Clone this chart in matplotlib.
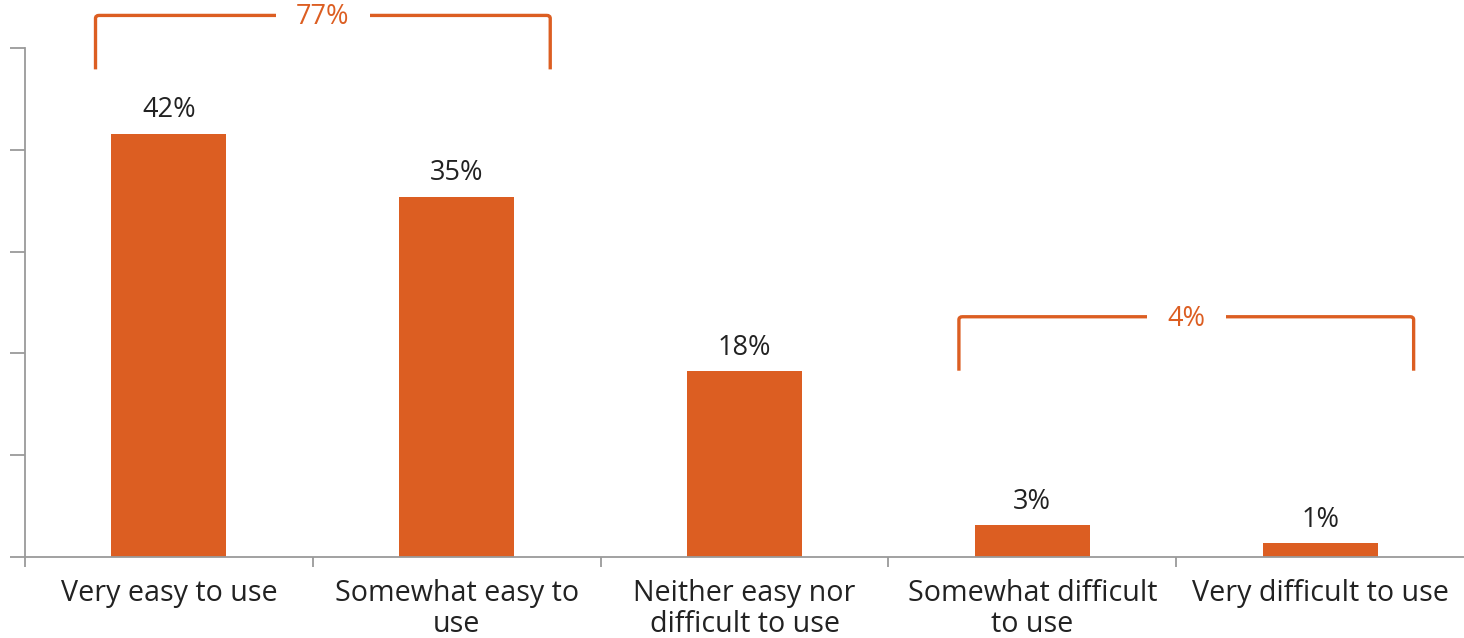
import numpy as np
import matplotlib
matplotlib.use("Agg")
from matplotlib import pyplot as plt
from matplotlib.path import Path
from matplotlib.patches import PathPatch

# data
categories = ["Very easy to use", "Somewhat easy to\nuse", "Neither easy nor\ndifficult to use",
              "Somewhat difficult\nto use", "Very difficult to use"]
values = [41.6, 35.4, 18.3, 3.1, 1.4]
value_labels = ["42%", "35%", "18%", "3%", "1%"]
groups = [(0, 1), (3, 4)]
group_labels = ["77%", "4%"]

ORANGE = "#DC5E22"
GREY = "#9a9a9a"
DARK = "#222222"

plt.rcParams['font.family'] = ['Open Sans', 'DejaVu Sans']

fig = plt.figure(figsize=(14.64, 6.38), dpi=100)
ax = fig.add_axes([25/1464, 81/638, 1 - 25/1464, 509/638])

x = np.arange(len(categories))
ax.bar(x, values, width=0.40, color=ORANGE)
for xi, v, lab in zip(x, values, value_labels):
    ax.text(xi, v + 0.9, lab, ha="center", va="bottom", fontsize=19.5, color=DARK)

ax.set_xlim(-0.5, 4.5)
ax.set_ylim(0, 50)
ax.set_yticks(np.arange(0, 51, 10))
ax.set_yticklabels([])
ax.tick_params(axis="y", length=11, width=1.3, color=GREY)
ax.set_xticks(x)
ax.set_xticklabels(categories, fontsize=20.6, color=DARK, linespacing=1.1)
ax.tick_params(axis="x", which="major", length=0, pad=15.5)
ax.set_xticks(np.arange(-0.5, 4.0, 1), minor=True)
ax.tick_params(axis="x", which="minor", length=7, width=1.3, color=GREY)
for s in ["top", "right"]:
    ax.spines[s].set_visible(False)
for s in ["left", "bottom"]:
    ax.spines[s].set_color(GREY)
    ax.spines[s].set_linewidth(1.3)

# brackets over grouped bars
tops = [53.2, 23.6]
drop = 5.3
for (i0, i1), lab, top in zip(groups, group_labels, tops):
    x0, x1 = i0 - 0.255, i1 + 0.325
    rx, ry = 0.012, 0.3
    verts = [(x0, top - drop), (x0, top - ry), (x0, top), (x0 + rx, top),
             (x1 - rx, top), (x1, top), (x1, top - ry), (x1, top - drop)]
    codes = [Path.MOVETO, Path.LINETO, Path.CURVE3, Path.CURVE3,
             Path.LINETO, Path.CURVE3, Path.CURVE3, Path.LINETO]
    ax.add_patch(PathPatch(Path(verts, codes), fill=False, edgecolor=ORANGE,
                           lw=2.4, clip_on=False, capstyle="butt"))
    ax.text((x0 + x1) / 2, top - 0.2, lab, ha="center", va="center", fontsize=19.5, color=ORANGE,
            bbox=dict(boxstyle="square,pad=0.75", fc="white", ec="none"), clip_on=False)

fig.savefig("out.png", dpi=100)
